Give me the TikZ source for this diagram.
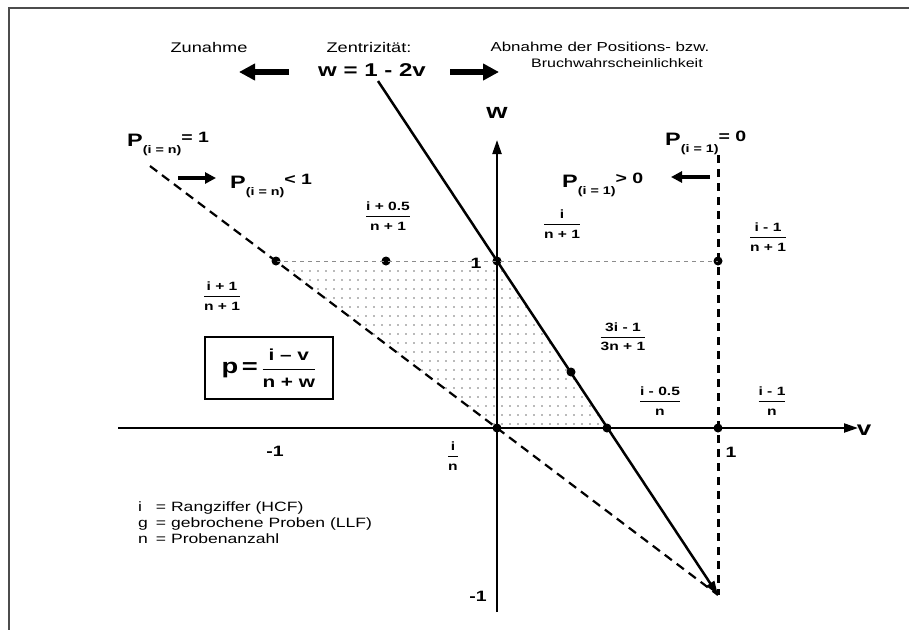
\documentclass[tikz,border=0pt]{standalone}
\usepackage{fontspec}
\setmainfont{Liberation Sans}[FakeStretch=1.3]
\usetikzlibrary{arrows.meta}
\newcommand\fsz[1]{\fontsize{#1}{#1}\selectfont}
\newcommand\lfrac[2]{$\displaystyle{\hbox{#1\rule[-4.5pt]{0pt}{4.5pt}}\over\hbox{\rule{0pt}{12pt}#2}}$}
\newcommand\Plab[2]{{\fsz{18}P}\raisebox{-7pt}{\fsz{11}#1}\raisebox{4pt}{\fsz{15}#2}}
\tikzset{
  framel/.style={line width=1.5pt, draw=black!70},
  axisl/.style={line width=2.2pt, -{Triangle[length=14pt,width=9pt]}},
  solidl/.style={line width=2.5pt, -{Triangle[length=14pt,width=9pt]}},
  dashl/.style={line width=2.2pt, dash pattern=on 9pt off 6pt},
  vdashl/.style={line width=3pt, dash pattern=on 8pt off 6pt},
  thindash/.style={line width=0.6pt, draw=black!45, dash pattern=on 4pt off 4pt},
  fatarrow/.style={line width=5.5pt, -{Triangle[length=16pt,width=16pt]}},
  smallarrow/.style={line width=4pt, -{Triangle[length=11pt,width=11pt]}},
  blackdot/.style={circle, fill=black, inner sep=0pt, minimum size=9pt},
  lbl/.style={font=\bfseries\fsz{12}, inner sep=0pt},
  num/.style={font=\bfseries\fsz{15}, inner sep=0pt},
  toptxt/.style={font=\fsz{14}, inner sep=0pt},
}
\begin{document}
\begin{tikzpicture}[x=1pt,y=-1pt]
\useasboundingbox (0,0) rectangle (909,630);
% frame
\coordinate (f1) at (8,8); \coordinate (f2) at (909,8);
\coordinate (f3) at (9,8); \coordinate (f4) at (9,630);
\draw[framel] (f1) -- (f2);
\draw[framel] (f3) -- (f4);

% dotted region
\begin{scope}
\clip (276,261) -- (497,261) -- (607,428) -- (497,428) -- cycle;
\foreach \i in {0,...,42} {
  \foreach \j in {0,...,19} {
    \fill[black!55] (278+8*\i, 271+9*\j) circle (0.9);
  }
}
\end{scope}

% coordinates
\coordinate (xL) at (118,428); \coordinate (xR) at (858,428);
\coordinate (yB) at (497,612); \coordinate (yT) at (497,140);
\coordinate (sS) at (378,81);
\coordinate (dS) at (150,166);
\coordinate (vT) at (718,155);
\coordinate (E) at (718,595);

% points
\node[blackdot] (Am1) at (276,261) {};
\node[blackdot] (Ah) at (386,261) {};
\node[blackdot] (W1) at (497,261) {};
\node[blackdot] (B1) at (718,261) {};
\node[blackdot] (T) at (571,372) {};
\node[blackdot] (O) at (497,428) {};
\node[blackdot] (Vh) at (607,428) {};
\node[blackdot] (V1) at (718,428) {};
\draw[thindash] (Am1.center) -- (B1.center);

% axes
\draw[axisl] (xL) -- (xR);
\draw[axisl] (yB) -- (yT);

% lines
\draw[vdashl] (vT) -- (E);
\draw[dashl] (dS) -- (E);
\draw[solidl] (sS) -- (E);

% axis labels
\node[font=\bfseries\fsz{21}, inner sep=0pt] (wl) at (497,113) {w};
\node[font=\bfseries\fsz{20}, inner sep=0pt] (vl) at (864,430) {v};
\node[num] (n1w) at (476,263) {1};
\node[num] (n1v) at (731,452) {1};
\node[num] (nm1v) at (275,451) {-1};
\node[num] (nm1w) at (478,596) {-1};

% top
\node[toptxt] (zun) at (209,47) {Zunahme};
\node[toptxt] (zen) at (369,47) {Zentrizität:};
\node[font=\bfseries\fsz{18.5}, inner sep=0pt] (weq) at (372,70) {w = 1 - 2v};
\node[inner sep=0pt, font=\fsz{13}] (abn1) at (600,47) {Abnahme der Positions- bzw.};
\node[inner sep=0pt, font=\fsz{12.3}] (abn2) at (617,63) {Bruchwahrscheinlichkeit};
\coordinate (la1) at (289,72); \coordinate (la2) at (239,72);
\coordinate (ra1) at (450,72); \coordinate (ra2) at (499,72);
\draw[fatarrow] (la1) -- (la2);
\draw[fatarrow] (ra1) -- (ra2);

% P labels
\node[font=\bfseries, inner sep=0pt, anchor=base west] (P1) at (127,146) {\Plab{(i = n)}{= 1}};
\node[font=\bfseries, inner sep=0pt, anchor=base west] (P2) at (230,188) {\Plab{(i = n)}{< 1}};
\node[font=\bfseries, inner sep=0pt, anchor=base west] (P3) at (665,145) {\Plab{(i = 1)}{= 0}};
\node[font=\bfseries, inner sep=0pt, anchor=base west] (P4) at (562,187) {\Plab{(i = 1)}{> 0}};
\coordinate (a1) at (178,178); \coordinate (a2) at (216,178);
\coordinate (a3) at (710,177); \coordinate (a4) at (671,177);
\draw[smallarrow] (a1) -- (a2);
\draw[smallarrow] (a3) -- (a4);

% fractions
\node[lbl] (f05) at (388,216) {\lfrac{i + 0.5}{n + 1}};
\node[lbl] (fi1) at (562,224) {\lfrac{i}{n + 1}};
\node[lbl] (fim1) at (768,237) {\lfrac{i - 1}{n + 1}};
\node[lbl] (fip1) at (222,296) {\lfrac{i + 1}{n + 1}};
\node[lbl] (f3i) at (623,337) {\lfrac{3i - 1}{3n + 1}};
\node[lbl] (fh) at (660,401) {\lfrac{i - 0.5}{n}};
\node[lbl] (fim1n) at (772,401) {\lfrac{i - 1}{n}};
\node[lbl] (fin) at (453,456) {\lfrac{i}{n}};

% formula box
\node[draw, line width=1.6pt, minimum width=128pt, minimum height=62pt, inner sep=0pt, font=\bfseries] (box) at (269,368)
  {{\fsz{21}p\,=\,}{\fsz{16}$\displaystyle{\hbox{i – v\rule[-7pt]{0pt}{7pt}}\over\hbox{\rule{0pt}{17pt}n + w}}$}};

% legend
\node[inner sep=0pt, anchor=west, font=\fontsize{13.5}{16}\selectfont] (leg) at (138,524)
  {\begin{tabular}{@{}l@{\hspace{8pt}}l@{}}i & = Rangziffer (HCF)\\ g & = gebrochene Proben (LLF)\\ n & = Probenanzahl\end{tabular}};
\end{tikzpicture}
\end{document}
